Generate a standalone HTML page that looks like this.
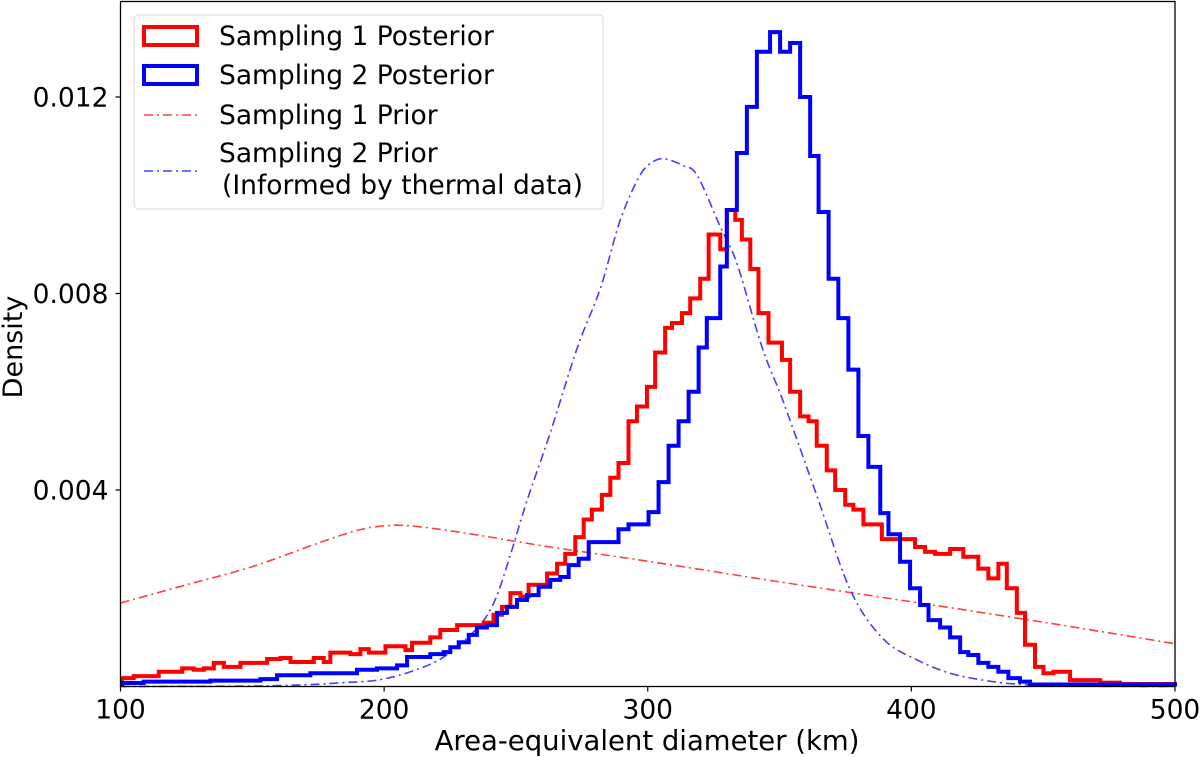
<!DOCTYPE html>
<html><head><meta charset="utf-8"><style>
html,body{margin:0;padding:0;background:#fff;}
svg{display:block;font-family:"DejaVu Sans","Liberation Sans",sans-serif;}
</style></head><body>
<svg id="chart" width="1200" height="757" viewBox="0 0 1200 757" xmlns="http://www.w3.org/2000/svg">
<rect x="0" y="0" width="1200" height="757" fill="#fff"/>
<g id="plot"></g>
<g id="axes"></g>
<g>
<rect x="134" y="15" width="469" height="194" rx="4" fill="#fff" fill-opacity="0.8" stroke="#d8d8d8" stroke-width="1"/>
<rect x="144" y="27" width="53" height="18" fill="none" stroke="#ff0000" stroke-width="4"/>
<text x="219" y="45" font-size="26.5">Sampling 1 Posterior</text>
<rect x="144" y="66" width="53" height="18" fill="none" stroke="#0000ff" stroke-width="4"/>
<text x="219" y="84" font-size="26.5">Sampling 2 Posterior</text>
<line x1="144" y1="115" x2="197" y2="115" stroke="#ff4040" stroke-width="1.6" stroke-dasharray="9,4,2,4"/>
<text x="219" y="124" font-size="26.5">Sampling 1 Prior</text>
<line x1="144" y1="171" x2="197" y2="171" stroke="#4040ff" stroke-width="1.6" stroke-dasharray="9,4,2,4"/>
<text x="219" y="162" font-size="26.5">Sampling 2 Prior</text>
<text x="222" y="194" font-size="26.5">(Informed by thermal data)</text>
</g>
</svg>
<script>
// ---- data ----
const redEdges = [100.6,105.0,114.5,123.4,127.8,131.6,135.4,139.2,145.5,155.6,160.7,164.5,173.3,177.1,179.6,187.2,191.0,194.2,200.5,208.1,210.6,217.5,221.3,227.7,237.8,241.5,244.7,247.9,251.7,254.8,261.8,265.6,268.7,272.5,275.7,278.8,282.6,285.8,288.9,292.7,295.9,299.7,302.8,306.6,309.2,313.0,316.1,319.9,323.1,327.5,330.0,333.2,335.7,338.9,342.0,345.8,350.9,354.0,357.8,361.0,364.1,367.9,371.1,374.9,378.0,381.8,388.8,401.4,405.2,409.0,414.7,419.7,425.4,429.2,433.0,436.2,440.0,443.1,446.9,450.1,453.9,460.2,471.6,479.1,500];
const redDensity = [0.00017,0.00021,0.0003,0.00037,0.00034,0.00037,0.00048,0.0004,0.00048,0.00056,0.00058,0.0005,0.00058,0.0005,0.00069,0.00066,0.00076,0.00069,0.00082,0.00074,0.00089,0.001,0.00115,0.00125,0.0013,0.00146,0.00162,0.0019,0.00183,0.00207,0.0023,0.0025,0.0027,0.00304,0.0034,0.0036,0.0039,0.00425,0.00455,0.0054,0.0057,0.0061,0.0068,0.0073,0.0074,0.0076,0.0079,0.0083,0.0092,0.0089,0.0097,0.0095,0.0091,0.0085,0.0076,0.0070,0.00665,0.0060,0.0055,0.0054,0.0049,0.0044,0.0040,0.0037,0.0036,0.0033,0.0030,0.00284,0.00274,0.0027,0.0028,0.00264,0.0024,0.0022,0.0025,0.0020,0.0015,0.00085,0.0004,0.00027,0.0003,0.00013,0.00008,0.00005];
const blueEdges = [100.6,108.8,134.1,153.1,159.4,172.0,189.7,197.3,204.9,208.7,217.5,222.6,225.1,228.3,232.1,235.2,239.0,242.8,246.6,250.4,254.2,258.6,263.0,266.8,270.0,273.8,277.6,288.9,292.7,300.3,304.1,307.9,311.7,315.5,319.3,322.4,327.5,330.0,333.8,337.6,341.4,346.4,350.2,354.0,357.8,361.6,364.8,368.6,372.3,376.1,379.9,383.7,388.2,391.3,395.7,399.5,403.3,406.5,410.9,414.7,418.5,421.6,425.4,429.2,433.0,436.8,441.2,445.0,500];
const blueDensity = [0.00007,0.0001,0.00012,0.00015,0.00023,0.00027,0.00034,0.00037,0.00043,0.0006,0.00066,0.0007,0.0008,0.0009,0.00105,0.0012,0.00125,0.0015,0.00162,0.00176,0.00186,0.00203,0.00217,0.00223,0.00247,0.0026,0.00294,0.0032,0.0033,0.00355,0.00416,0.0049,0.0054,0.0060,0.0069,0.0075,0.00855,0.0097,0.01086,0.0118,0.01292,0.01332,0.01292,0.0131,0.0120,0.0108,0.00966,0.0083,0.0075,0.00645,0.0051,0.00447,0.00353,0.0031,0.00254,0.0020,0.00166,0.00135,0.0012,0.001,0.0007,0.00064,0.00048,0.0004,0.0003,0.00017,0.0001,0.00004];
const prior1X = [100,125,150,175,190,200,210,230,263,300,350,395.7,450,500];
const prior1Y = [0.0017,0.00207,0.00244,0.00292,0.00318,0.00327,0.00327,0.00313,0.00284,0.00255,0.00213,0.00176,0.00131,0.00087];
const prior2X = [100,150,172,185,197.4,210,222.6,235.3,242,248,254.3,263,273.3,282,289.6,297,302,306.6,313.5,318.8,327.5,333.9,343.4,351.4,364.3,376.8,389.3,402.2,414.7,427.2,439.7,460,500];
const prior2Y = [0,0.00001,0.00004,0.00008,0.00013,0.0003,0.0006,0.00119,0.00175,0.0027,0.0038,0.00516,0.0069,0.0081,0.0095,0.0104,0.01068,0.01074,0.0106,0.0104,0.00936,0.0086,0.0069,0.0058,0.00386,0.00197,0.00097,0.00054,0.00027,0.00013,0.00005,0.00001,0];
const xTicks = [100,200,300,400,500];
const yTicks = [0.004,0.008,0.012];
const yTickLabels = ["0.004","0.008","0.012"];

// ---- axes ----
const X0=120.5, X1=1175, Y0=686.5, YTOP=1.5;
const xScale = v => X0 + (v-100)/400*(X1-X0);
const yScale = v => Y0 - v*49125;
const NS="http://www.w3.org/2000/svg";
const plot=document.getElementById('plot'), axes=document.getElementById('axes');
function mk(tag, attrs, parent){const e=document.createElementNS(NS,tag);for(const k in attrs)e.setAttribute(k,attrs[k]);parent.appendChild(e);return e;}

function stepPath(edges, vals){
  let d=`M${xScale(edges[0])},${Y0}`;
  for(let i=0;i<vals.length;i++){
    d+=` L${xScale(edges[i])},${yScale(vals[i])} L${xScale(edges[i+1])},${yScale(vals[i])}`;
  }
  d+=` L${xScale(edges[edges.length-1])},${Y0}`;
  return d;
}
function smoothPath(xs, ys){
  const p=xs.map((x,i)=>[xScale(x),Math.min(Y0,yScale(ys[i]))]);
  let d=`M${p[0][0]},${p[0][1]}`;
  for(let i=0;i<p.length-1;i++){
    const a=p[Math.max(0,i-1)], b=p[i], c=p[i+1], e=p[Math.min(p.length-1,i+2)];
    const c1=[b[0]+(c[0]-a[0])/6, b[1]+(c[1]-a[1])/6];
    const c2=[c[0]-(e[0]-b[0])/6, c[1]-(e[1]-b[1])/6];
    d+=` C${c1[0]},${Math.min(Y0,c1[1])} ${c2[0]},${Math.min(Y0,c2[1])} ${c[0]},${c[1]}`;
  }
  return d;
}

const p1=mk('path',{d:smoothPath(prior1X,prior1Y),fill:'none',stroke:'#ff4040','stroke-width':1.6,'stroke-dasharray':'9,4,2,4'},plot);


const p2=mk('path',{d:smoothPath(prior2X,prior2Y),fill:'none',stroke:'#4040ff','stroke-width':1.6,'stroke-dasharray':'9,4,2,4'},plot);


const h1=mk('path',{d:stepPath(redEdges,redDensity),fill:'none',stroke:'#ff0000','stroke-width':4,'stroke-linejoin':'miter'},plot);


const h2=mk('path',{d:stepPath(blueEdges,blueDensity),fill:'none',stroke:'#0000ff','stroke-width':4,'stroke-linejoin':'miter'},plot);



const frame=mk('rect',{x:X0,y:YTOP,width:X1-X0,height:Y0-YTOP,fill:'none',stroke:'#000','stroke-width':1.3},axes);



xTicks.forEach(t=>{
  const x=xScale(t);
  const tk=mk('line',{x1:x,y1:Y0,x2:x,y2:Y0+5,stroke:'#000','stroke-width':1.2},axes);
  
  
  const lb=mk('text',{x:x,y:Y0+32,'font-size':26.5,'text-anchor':'middle'},axes);
  lb.textContent=String(t);
  
  
});
yTicks.forEach((t,i)=>{
  const y=yScale(t);
  const tk=mk('line',{x1:X0-5,y1:y,x2:X0,y2:y,stroke:'#000','stroke-width':1.2},axes);
  
  
  const lb=mk('text',{x:X0-12,y:y+9.5,'font-size':26.5,'text-anchor':'end'},axes);
  lb.textContent=yTickLabels[i];
  
  
});
const xt=mk('text',{x:647,y:750,'font-size':27.5,'text-anchor':'middle'},axes);
xt.textContent='Area-equivalent diameter (km)';


const yt=mk('text',{x:0,y:0,'font-size':27,'text-anchor':'middle',transform:'translate(22,347) rotate(-90)'},axes);
yt.textContent='Density';


</script>
</body></html>
